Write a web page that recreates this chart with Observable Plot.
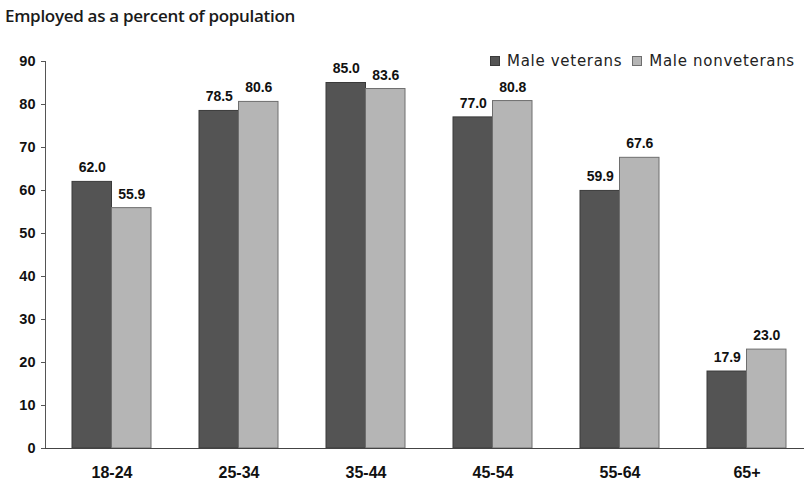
<!DOCTYPE html>
<html><head><meta charset="utf-8">
<script src="https://cdn.jsdelivr.net/npm/d3@7"></script>
<script src="https://cdn.jsdelivr.net/npm/@observablehq/plot@0.6"></script>
<style>
body{margin:0;background:#fff;}
#wrap{position:relative;width:804px;height:489px;overflow:hidden;background:#fff}
#title{height:30px;font:600 17px "Open Sans",sans-serif;padding-left:5px;line-height:32px;color:#1a1a1a;letter-spacing:-0.3px}
#legend{position:absolute;left:490px;top:52px;font:15px "DejaVu Sans",sans-serif;color:#222;display:flex;align-items:center;white-space:nowrap;letter-spacing:0.7px}
#legend .sw{display:inline-block;width:10px;height:10px;margin-right:7px;box-sizing:border-box}
#legend .it{display:flex;align-items:center;margin-right:10px}
svg{display:block}
</style>
</head><body>
<div id="wrap">
<div id="title">Employed as a percent of population</div>
<div id="chart"></div>
<div id="legend"></div>
</div>
<script>
const ages = ["18-24", "25-34", "35-44", "45-54", "55-64", "65+"];
const series = ["Male veterans", "Male nonveterans"];
const veterans = [62.0, 78.5, 85.0, 77.0, 59.9, 17.9];
const nonveterans = [55.9, 80.6, 83.6, 80.8, 67.6, 23.0];
const yTicks = [0, 10, 20, 30, 40, 50, 60, 70, 80, 90];

const fills = {"Male veterans": "#545454", "Male nonveterans": "#b5b5b5"};
const strokes = {"Male veterans": "#3a3a3a", "Male nonveterans": "#6e6e6e"};

const vetRows = ages.map((a, i) => ({age: a, series: series[0], value: veterans[i]}));
const nonRows = ages.map((a, i) => ({age: a, series: series[1], value: nonveterans[i]}));

const W = 804, H = 459;
const font = "Liberation Sans, sans-serif";
const chart = Plot.plot({
  width: W,
  height: H,
  marginLeft: 45,
  marginRight: 0,
  marginTop: 31,
  marginBottom: 41,
  style: {background: "#fff", overflow: "visible"},
  x: {domain: ages, range: [45, 812], paddingInner: 0.38, paddingOuter: 0.2, axis: null, label: null},
  y: {domain: [0, 90], axis: null, label: null},
  marks: [
    Plot.barY(vetRows, {x: "age", y: "value", fill: fills[series[0]], stroke: strokes[series[0]], strokeWidth: 1, insetRight: 39.5}),
    Plot.barY(nonRows, {x: "age", y: "value", fill: fills[series[1]], stroke: strokes[series[1]], strokeWidth: 1, insetLeft: 39.5}),
    Plot.text(vetRows, {x: "age", y: "value", text: d => d.value.toFixed(1), dx: -19.75, dy: -14, fontWeight: "bold", fontSize: 14, fontFamily: font, fill: "#111"}),
    Plot.text(nonRows, {x: "age", y: "value", text: d => d.value.toFixed(1), dx: 19.75, dy: -14, fontWeight: "bold", fontSize: 14, fontFamily: font, fill: "#111"}),
    Plot.axisY(yTicks, {ticks: yTicks, tickSize: 4, tickPadding: 6, label: null, stroke: "#555", fontWeight: "bold", fontSize: 14.5, fontFamily: font, fill: "#111", tickFormat: d => d}),
    Plot.axisX(ages, {tickSize: 0, tickPadding: 18, label: null, fontWeight: "bold", fontSize: 16, fontFamily: font, fill: "#111", letterSpacing: "-0.5px"}),
    Plot.frame({anchor: "left", stroke: "#555"}),
    Plot.ruleY([0], {stroke: "#444", strokeWidth: 1.2})
  ]
});
document.getElementById("chart").appendChild(chart);

const leg = document.getElementById("legend");
series.forEach(s => {
  const it = document.createElement("span");
  it.className = "it";
  const sw = document.createElement("span");
  sw.className = "sw";
  sw.style.background = fills[s];
  sw.style.border = "1px solid " + strokes[s];
  it.appendChild(sw);
  it.appendChild(document.createTextNode(s));
  leg.appendChild(it);
});
</script>
</body></html>
